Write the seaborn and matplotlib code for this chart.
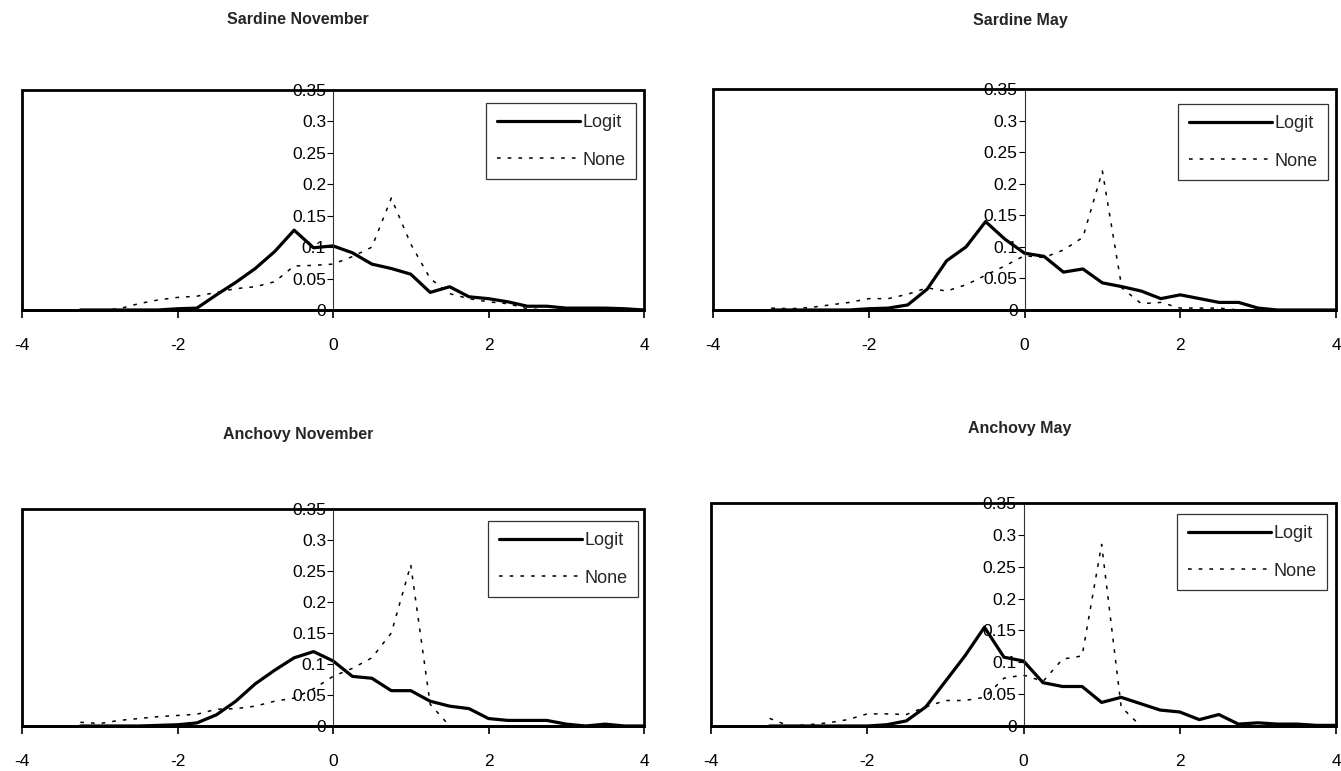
import matplotlib
matplotlib.use("Agg")
import matplotlib.pyplot as plt
from matplotlib.patches import Rectangle
from matplotlib.ticker import FuncFormatter
import numpy as np
import pandas as pd
import seaborn as sns

sns.set_theme(style="white")
plt.rcParams["font.family"] = ["Liberation Sans", "DejaVu Sans"]

# ---------------- data ----------------
x_vals = [-3.25, -3.0, -2.75, -2.5, -2.25, -2.0, -1.75, -1.5, -1.25, -1.0,
          -0.75, -0.5, -0.25, 0.0, 0.25, 0.5, 0.75, 1.0, 1.25, 1.5,
          1.75, 2.0, 2.25, 2.5, 2.75, 3.0, 3.25, 3.5, 3.75, 4.0]

sardine_nov_logit = [0, 0, 0, 0, 0, 0.002, 0.003, 0.024, 0.044, 0.066,
                     0.093, 0.127, 0.099, 0.102, 0.091, 0.073, 0.066, 0.057, 0.028, 0.037,
                     0.021, 0.018, 0.013, 0.006, 0.006, 0.003, 0.003, 0.003, 0.002, 0.0]
sardine_nov_none = [0, 0, 0.002, 0.010, 0.016, 0.020, 0.022, 0.028, 0.034, 0.037,
                    0.045, 0.070, 0.071, 0.073, 0.085, 0.100, 0.178, 0.105, 0.050, 0.026,
                    0.018, 0.013, 0.010, 0.002, 0, 0, 0, 0, 0, 0]

sardine_may_logit = [0, 0, 0, 0, 0, 0.002, 0.003, 0.008, 0.033, 0.078,
                     0.100, 0.140, 0.112, 0.090, 0.085, 0.060, 0.065, 0.043, 0.037, 0.030,
                     0.018, 0.024, 0.018, 0.012, 0.012, 0.003, 0, 0, 0, 0]
sardine_may_none = [0.003, 0.002, 0.004, 0.008, 0.012, 0.018, 0.018, 0.025, 0.035, 0.030,
                    0.040, 0.055, 0.070, 0.086, 0.083, 0.095, 0.115, 0.220, 0.035, 0.010,
                    0.012, 0.003, 0.003, 0.003, 0, 0, 0, 0, 0, 0]

anchovy_nov_logit = [0, 0, 0, 0, 0.001, 0.002, 0.005, 0.018, 0.040, 0.068,
                     0.090, 0.110, 0.120, 0.105, 0.080, 0.077, 0.057, 0.057, 0.040, 0.032,
                     0.028, 0.012, 0.009, 0.009, 0.009, 0.003, 0, 0.003, 0, 0]
anchovy_nov_none = [0.006, 0.004, 0.009, 0.012, 0.015, 0.017, 0.019, 0.027, 0.028, 0.032,
                    0.040, 0.045, 0.060, 0.080, 0.093, 0.110, 0.150, 0.260, 0.035, 0,
                    0, 0, 0, 0, 0, 0, 0, 0, 0, 0]

anchovy_may_logit = [0, 0, 0, 0, 0, 0, 0.002, 0.008, 0.030, 0.070,
                     0.110, 0.155, 0.108, 0.102, 0.068, 0.062, 0.062, 0.037, 0.045, 0.035,
                     0.025, 0.022, 0.010, 0.018, 0.003, 0.005, 0.003, 0.003, 0.001, 0.001]
anchovy_may_none = [0.012, 0.0, 0.002, 0.005, 0.010, 0.019, 0.019, 0.018, 0.030, 0.040,
                    0.040, 0.045, 0.075, 0.080, 0.070, 0.105, 0.110, 0.285, 0.030, 0,
                    0, 0, 0, 0, 0, 0, 0, 0, 0, 0]

titles = ["Sardine November", "Sardine May", "Anchovy November", "Anchovy May"]
series_names = ["Logit", "None"]
x_ticks = [-4, -2, 0, 2, 4]
y_ticks = [0, 0.05, 0.1, 0.15, 0.2, 0.25, 0.3, 0.35]

panels = [
    (sardine_nov_logit, sardine_nov_none),
    (sardine_may_logit, sardine_may_none),
    (anchovy_nov_logit, anchovy_nov_none),
    (anchovy_may_logit, anchovy_may_none),
]

# ---------------- layout (pixels) ----------------
W, H = 1341, 771
fig = plt.figure(figsize=(W / 100, H / 100), dpi=100)
fig.patch.set_facecolor("white")

boxes = [(22, 644, 90, 310), (713, 1336, 89, 310),
         (22, 644, 509, 726), (711, 1336, 503, 726)]
legend_anchor = [(636, 103), (1328, 104), (638, 521), (1327, 514)]
title_pos = [(298, 20), (1020, 20), (298, 434), (1020, 428)]

for i, ((lo, no), (l, r, t, b)) in enumerate(zip(panels, boxes)):
    ax = fig.add_axes([l / W, 1 - b / H, (r - l) / W, (b - t) / H])
    ax.set_facecolor("white")
    df = pd.DataFrame({"x": x_vals, "Logit": lo, "None": no})
    sns.lineplot(data=df, x="x", y="Logit", ax=ax, color="black", lw=2.3,
                 label=series_names[0], solid_joinstyle="round")
    sns.lineplot(data=df, x="x", y="None", ax=ax, color="black", lw=1.1,
                 linestyle=(0, (2.4, 4.6)), label=series_names[1])
    ax.set_xlim(-4, 4)
    ax.set_ylim(0, 0.35)
    ax.set_xlabel("")
    ax.set_ylabel("")
    ax.set_xticks(x_ticks)
    ax.set_yticks(y_ticks)
    ax.yaxis.set_major_formatter(FuncFormatter(lambda v, p: f"{v:g}"))
    ax.xaxis.set_major_formatter(FuncFormatter(lambda v, p: f"{v:g}"))
    for s in ["top", "right"]:
        ax.spines[s].set_visible(False)
    ax.spines["left"].set_position(("data", 0))
    ax.spines["left"].set_linewidth(0.8)
    ax.spines["left"].set_color("#333333")
    ax.spines["bottom"].set_linewidth(2.0)
    ax.spines["bottom"].set_color("black")
    ax.tick_params(axis="y", direction="out", length=4, width=0.8, pad=1,
                   labelsize=12.5, left=True, colors="black")
    ax.tick_params(axis="x", direction="out", length=6, width=1.2, pad=14,
                   labelsize=12.5, bottom=True, colors="black")
    ax.add_patch(Rectangle((0, 0), 1, 1, transform=ax.transAxes, fill=False,
                           edgecolor="black", lw=2.0, clip_on=False, zorder=5))
    lx, ly = legend_anchor[i]
    leg = ax.legend(loc="upper right",
                    bbox_to_anchor=((lx - l) / (r - l), 1 - (ly - t) / (b - t)),
                    bbox_transform=ax.transAxes, borderaxespad=0,
                    frameon=True, fancybox=False, edgecolor="black",
                    fontsize=13, handlelength=4.6, handletextpad=0.1,
                    borderpad=0.6, labelspacing=1.15)
    leg.get_frame().set_linewidth(0.9)
    tx, ty = title_pos[i]
    fig.text(tx / W, 1 - ty / H, titles[i], ha="center", va="center",
             fontsize=11.5, fontweight="bold")

fig.savefig("out.png", dpi=100, facecolor="white")
